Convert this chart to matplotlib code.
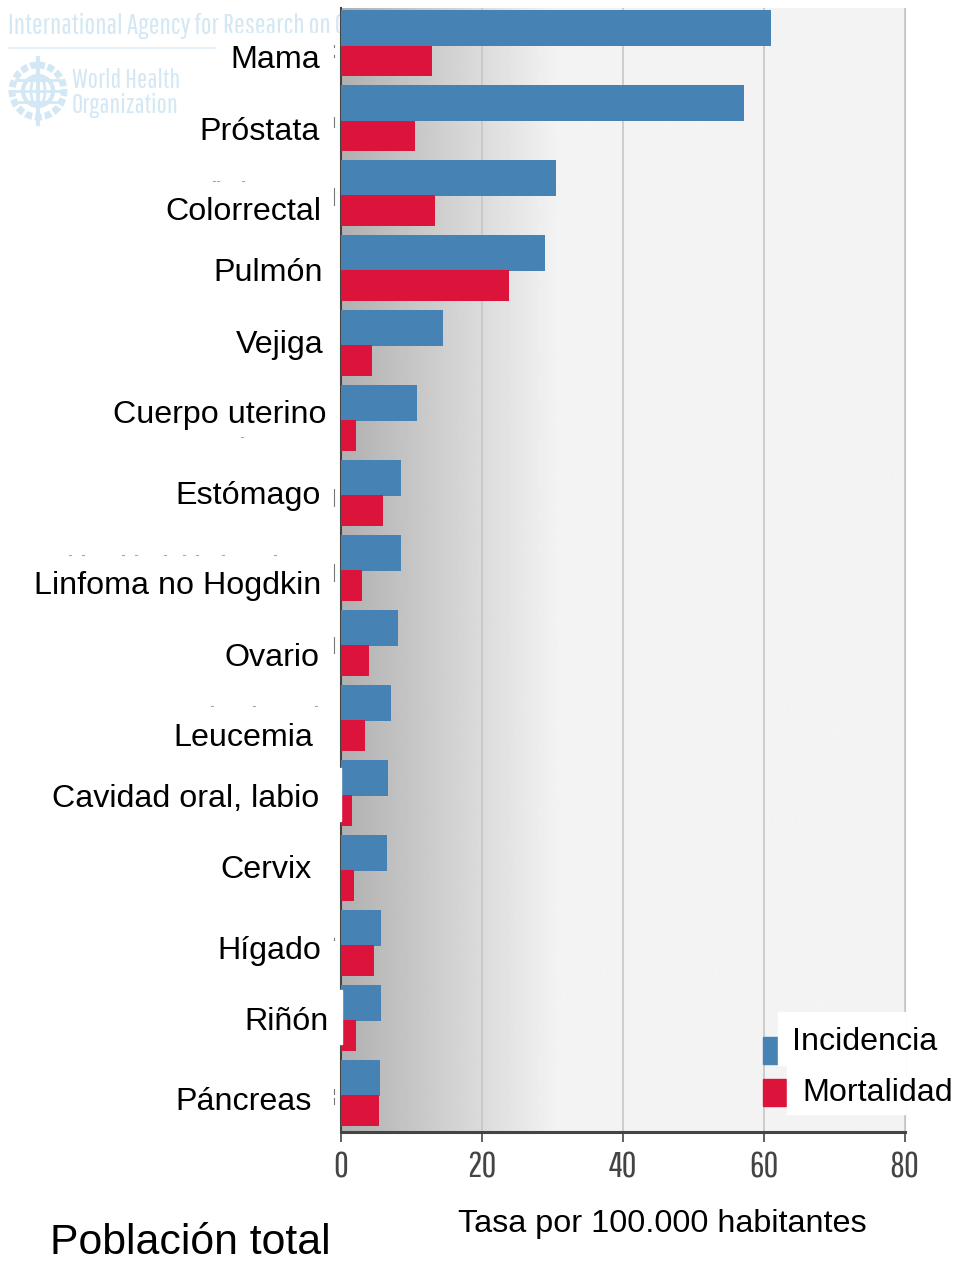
#!/usr/bin/env python3
"""Incidence and mortality rates by cancer site, total population."""

import matplotlib

matplotlib.use("Agg")
import matplotlib.pyplot as plt
import numpy as np
from matplotlib.patches import Circle, Ellipse, Rectangle

sites = [
    "Mama", "Próstata", "Colorrectal", "Pulmón", "Vejiga",
    "Cuerpo uterino", "Estómago", "Linfoma no Hogdkin", "Ovario", "Leucemia",
    "Cavidad oral, labio", "Cervix", "Hígado", "Riñón", "Páncreas",
]
incidence = [61.1, 57.2, 30.5, 29.0, 14.5, 10.9, 8.6, 8.6, 8.1, 7.2, 6.8, 6.6, 5.8, 5.8, 5.6]
mortality = [13.0, 10.6, 13.4, 23.9, 4.5, 2.2, 6.0, 3.1, 4.0, 3.5, 1.7, 1.9, 4.7, 2.2, 5.4]
x_ticks = [0, 20, 40, 60, 80]

# the labels were pasted by hand in the source, so each has its own spot (pixels)
label_right = [320, 320, 321, 323, 324, 326, 321, 321, 319, 313, 319, 312, 321, 329, 312]
label_y = [57, 129, 209, 270, 342, 412, 493, 583, 655, 735, 796, 867, 948, 1019, 1099]

# leftovers of the original labels that the pasted boxes did not cover (pixels)
stray_bars = [(45, 47), (55, 57), (117, 127), (188, 205), (489, 506), (564, 581), (637, 653),
              (938, 940), (1089, 1094), (1098, 1104)]
stray_dots = [(214, 181), (218, 181), (243, 181), (242, 437), (223, 555), (275, 555), (212, 706),
              (254, 706), (316, 706), (70, 555), (83, 555), (123, 555), (136, 555), (165, 555),
              (184, 555), (197, 555)]

BLUE = "#4682b4"
RED = "#dc143c"
PALE = "#d3e8f4"
NARROW = ["Pathway Gothic One", "Liberation Sans"]
W, H = 955, 1263

plt.rcParams["font.family"] = ["Liberation Sans", "DejaVu Sans"]

fig = plt.figure(figsize=(W / 100, H / 100), dpi=100)

# watermark sits behind everything, the bars and label box cut it off
bg = fig.add_axes([0, 0, 1, 1], zorder=-1)
bg.set_xlim(0, W)
bg.set_ylim(H, 0)
bg.axis("off")
bg.text(8, 26, "International Agency for Research on Cancer", fontsize=20.5,
        family=NARROW, color=PALE, va="center", fontweight="bold")
bg.add_patch(Rectangle((218, 33), 122, 50, color="white", zorder=3))
bg.plot([9, 217], [48, 48], color=PALE, linewidth=1.2, linestyle=(0, (1, 0.5)))
bg.add_patch(Circle((38, 91), 26, fill=False, edgecolor=PALE, linewidth=5, linestyle=(0, (1, 0.4))))
bg.add_patch(Circle((38, 91), 15, fill=False, edgecolor=PALE, linewidth=3))
bg.add_patch(Ellipse((38, 91), 14, 32, fill=False, edgecolor=PALE, linewidth=2))
bg.plot([38, 38], [58, 124], color=PALE, linewidth=3)
bg.plot([12, 64], [91, 91], color=PALE, linewidth=2)
bg.plot([16, 60], [80, 80], color=PALE, linewidth=2)
bg.plot([16, 60], [102, 102], color=PALE, linewidth=2)
bg.text(72, 81, "World Health", fontsize=19.5, family=NARROW, color=PALE, va="center")
bg.text(72, 105, "Organization", fontsize=19.5, family=NARROW, color=PALE, va="center")

ax = fig.add_axes([340.5 / W, 1 - 1132 / H, 564 / W, 1124 / H])

# background gradient, grey to light between 0 and about 30
ramp = np.clip(np.linspace(0, 80, 400) / 31, 0, 1)
ax.imshow(
    (0.69 + (0.955 - 0.69) * ramp)[None, :],
    extent=[0, 80, 14.49, -0.5],
    cmap="gray",
    vmin=0,
    vmax=1,
    aspect="auto",
    zorder=0,
)

y = np.arange(len(sites))
ax.barh(y - 0.233, incidence, height=0.48, color=BLUE, zorder=3)
ax.barh(y + 0.207, mortality, height=0.413, color=RED, zorder=3)

ax.set_xlim(0, 80)
ax.set_ylim(14.49, -0.5)
ax.set_yticks([])
ax.set_xticks(x_ticks)
ax.set_xticklabels([])
ax.grid(True, axis="x", color="#c6c6c6", linewidth=1.2, zorder=1)
ax.tick_params(axis="x", length=7, width=1.2, color="#444444")
ax.spines["top"].set_visible(False)
ax.spines["right"].set_color("#c6c6c6")
ax.spines["left"].set_color("#444444")
ax.spines["left"].set_linewidth(1.5)
ax.spines["bottom"].set_color("#444444")
ax.spines["bottom"].set_linewidth(2.2)

# overlay in pixel coordinates for the pasted on labels and legend
ov = fig.add_axes([0, 0, 1, 1], zorder=5)
ov.set_xlim(0, W)
ov.set_ylim(H, 0)
ov.axis("off")
ov.patch.set_alpha(0)

# two label boxes bite into the axis line
ov.add_patch(Rectangle((336, 768), 5, 53, color="white"))
ov.add_patch(Rectangle((336, 990), 6, 54, color="white"))

for top, bottom in stray_bars:
    ov.plot([334, 334], [top, bottom], color="#777777", linewidth=0.8)
for dot_x, dot_y in stray_dots:
    ov.plot([dot_x - 1, dot_x + 1], [dot_y, dot_y], color="#aaaaaa", linewidth=0.8)

for name, rx, ly in zip(sites, label_right, label_y):
    ov.text(rx, ly + 3, name, fontsize=23.2, ha="right", va="center", color="black")

for val in x_ticks:
    ov.text(340.5 + val * 564 / 80, 1167, str(val), fontsize=26, ha="center", va="center",
            family=NARROW, color="#444444")

ov.text(662, 1224, "Tasa por 100.000 habitantes", fontsize=23.3, ha="center", va="center")
ov.text(50, 1243, "Población total", fontsize=30.8, ha="left", va="center")

# legend
ov.add_patch(Rectangle((763, 1037), 24, 27, color=BLUE))
ov.add_patch(Rectangle((763, 1079), 23, 27, color=RED))
ov.add_patch(Rectangle((778, 1012), 127, 53, color="white"))
ov.add_patch(Rectangle((787, 1064), 118, 50, color="white"))
ov.text(792, 1042, "Incidencia", fontsize=23.2, va="center")
ov.text(802, 1093, "Mortalidad", fontsize=23.2, va="center")

fig.savefig("out.png", dpi=100)
